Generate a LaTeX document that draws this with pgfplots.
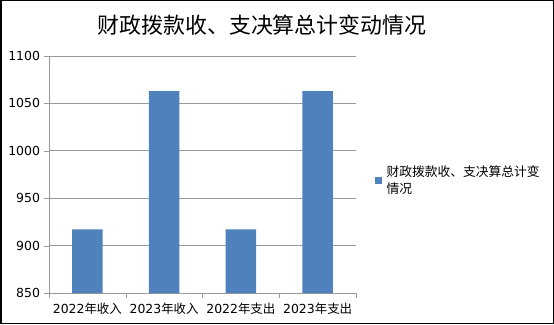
\documentclass[border=0pt]{standalone}
\usepackage{pgfplots}
\pgfplotsset{compat=1.18}
\usepackage{fontspec}
\setmainfont{DejaVu Sans}
\newfontfamily\cjk{Noto Sans CJK SC}
\definecolor{barblue}{HTML}{4F81BD}
\definecolor{gridgray}{HTML}{9A9A9A}
\begin{document}
\begin{tikzpicture}[x=1bp,y=1bp]
\useasboundingbox (0,0) rectangle (554,324);
\draw[black, line width=1.5bp] (0.75,0.75) rectangle (553.25,323.25);
\node[font=\cjk\fontsize{22}{26}\selectfont] at (262,299) {财政拨款收、支决算总计变动情况};
\begin{axis}[
  at={(49bp,31bp)}, anchor=south west, scale only axis,
  width=307bp, height=237bp,
  ymin=850, ymax=1100, ytick={850,900,...,1100},
  xmin=-0.5, xmax=3.5, xtick={0,1,2,3},
  xticklabels={2022{\cjk 年收入},2023{\cjk 年收入},2022{\cjk 年支出},2023{\cjk 年支出}},
  minor xtick={-0.5,0.5,1.5,2.5,3.5},
  major x tick style={draw=none},
  minor x tick style={gridgray},
  y tick style={gridgray},
  tick align=outside,
  major tick length=5bp, minor tick length=5bp,
  axis x line*=bottom, axis y line*=left,
  axis line style={gridgray,-},
  ymajorgrids, grid style={gridgray, line width=0.8bp},
  tick label style={font=\fontsize{12.5}{14}\selectfont},
  /pgf/number format/assume math mode=true,
  /pgf/number format/1000 sep={},
  yticklabel style={xshift=-0.5bp},
  xticklabel style={yshift=-1bp},
  ybar, bar width=0.4,
  legend style={at={(1.050,0.556)}, anchor=north west, draw=none, fill=none,
    font=\cjk\fontsize{12.8}{17}\selectfont, cells={align=left}},
  legend image code/.code={\fill[barblue] (0bp,-3.5bp) rectangle (7bp,3.5bp); \path (10bp,0bp);},
]
\addplot[fill=barblue, draw=none] coordinates {(0,917) (1,1063) (2,917) (3,1063)};
\addlegendentry{财政拨款收、支决算总计变\\情况}
\end{axis}
\end{tikzpicture}
\end{document}
